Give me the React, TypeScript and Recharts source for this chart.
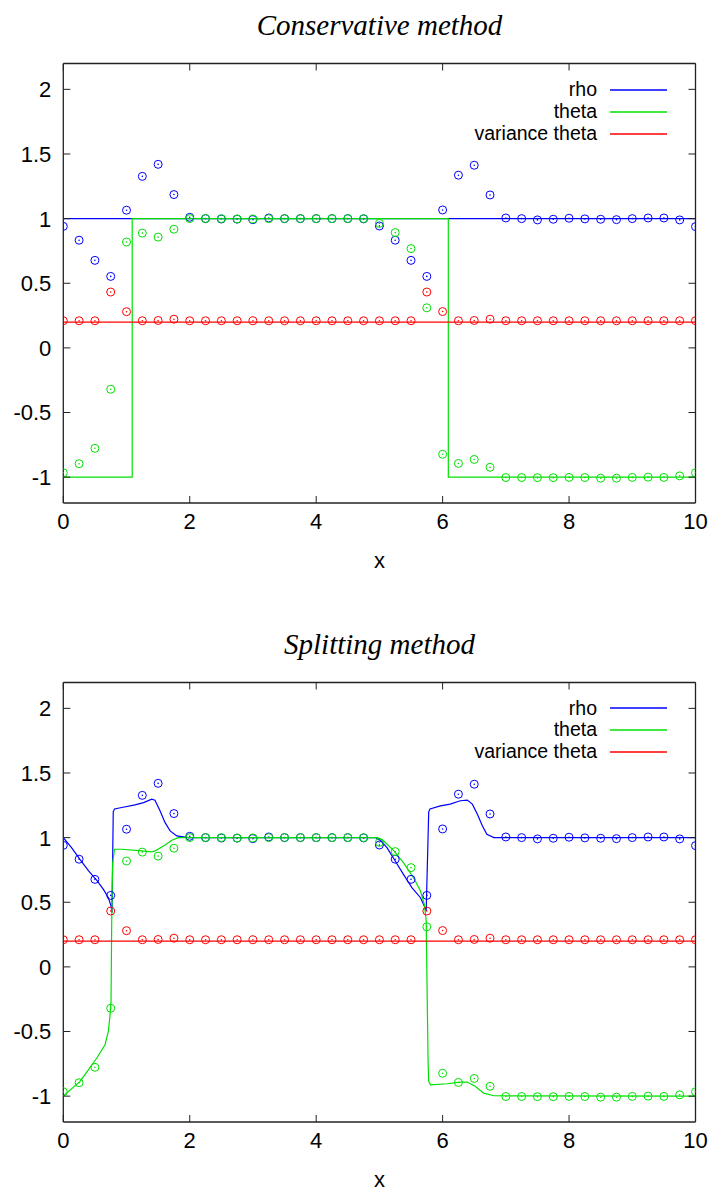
import { ComposedChart, Line, Scatter, XAxis, YAxis } from "recharts";

// sample points (circles), same in both panels
const pointX = [
  0, 0.25, 0.5, 0.75, 1, 1.25, 1.5, 1.75, 2, 2.25, 2.5, 2.75, 3, 3.25, 3.5, 3.75, 4, 4.25, 4.5, 4.75,
  5, 5.25, 5.5, 5.75, 6, 6.25, 6.5, 6.75, 7, 7.25, 7.5, 7.75, 8, 8.25, 8.5, 8.75, 9, 9.25, 9.5, 9.75, 10,
];
const rhoPoints = [
  0.94, 0.833, 0.677, 0.553, 1.065, 1.327, 1.42, 1.186, 1.01, 1.0, 0.997, 0.996, 0.992, 1.005, 1.0, 1.0, 1.0, 1.0, 1.0, 0.998,
  0.943, 0.833, 0.677, 0.553, 1.067, 1.336, 1.413, 1.183, 1.005, 1.0, 0.99, 0.995, 1.003, 0.998, 0.995, 0.992, 1.0, 1.005, 1.005, 0.99, 0.938,
];
const thetaPoints = [
  -0.966, -0.896, -0.777, -0.32, 0.819, 0.888, 0.857, 0.918, 1.0, 1.0, 1.0, 0.997, 0.997, 1.0, 1.0, 1.0, 1.0, 1.0, 1.0, 1.0,
  0.963, 0.892, 0.768, 0.31, -0.823, -0.894, -0.863, -0.924, -1.003, -1.003, -1.004, -1.004, -1.002, -1.003, -1.008, -1.008, -1.002, -1.0, -1.002, -0.99, -0.966,
];
const variancePoints = [
  0.21, 0.21, 0.21, 0.432, 0.28, 0.21, 0.212, 0.222, 0.21, 0.21, 0.21, 0.21, 0.21, 0.21, 0.21, 0.21, 0.21, 0.21, 0.21, 0.21,
  0.21, 0.21, 0.21, 0.432, 0.281, 0.21, 0.212, 0.222, 0.21, 0.21, 0.21, 0.21, 0.21, 0.21, 0.21, 0.21, 0.21, 0.21, 0.21, 0.21, 0.21,
];

// conservative method curves
const consRhoX = [0, 10];
const consRhoY = [1, 1];
const consThetaX = [0, 1.09, 1.09, 6.09, 6.09, 10];
const consThetaY = [-1, -1, 1, 1, -1, -1];
const consVarX = [0, 10];
const consVarY = [0.2, 0.2];

// splitting method curves
const splitRhoX = [
  0, 0.13, 0.26, 0.4, 0.53, 0.634, 0.713, 0.755, 0.77, 0.79, 0.81, 0.925, 1.135, 1.27, 1.4, 1.45, 1.53, 1.61, 1.69, 1.795, 1.98,
  4.94, 5.015, 5.12, 5.25, 5.38, 5.517, 5.65, 5.71, 5.74, 5.78, 5.8, 5.965, 6.12, 6.28, 6.39, 6.47, 6.55, 6.63, 6.7, 6.81, 10,
];
const splitRhoY = [
  1.0, 0.922, 0.833, 0.742, 0.67, 0.6, 0.535, 0.47, 0.42, 1.2, 1.222, 1.233, 1.253, 1.271, 1.297, 1.29, 1.207, 1.116, 1.052, 1.013, 1.0,
  1.0, 0.98, 0.922, 0.819, 0.716, 0.612, 0.535, 0.47, 0.432, 1.2, 1.222, 1.246, 1.259, 1.285, 1.29, 1.259, 1.18, 1.09, 1.026, 1.0, 1.0,
];
const splitThetaX = [
  0, 0.265, 0.4, 0.53, 0.66, 0.713, 0.74, 0.755, 0.766, 0.78, 0.81, 0.925, 1.24, 1.4, 1.45, 1.61, 1.716, 1.82,
  4.97, 5.07, 5.23, 5.38, 5.54, 5.65, 5.71, 5.73, 5.74, 5.77, 5.78, 5.81, 6.07, 6.28, 6.39, 6.52, 6.65, 6.81, 10,
];
const splitThetaY = [
  -1.0, -0.886, -0.795, -0.705, -0.602, -0.498, -0.369, -0.266, 0.355, 0.8, 0.91, 0.91, 0.897, 0.889, 0.897, 0.943, 0.98, 1.0,
  1.0, 0.974, 0.897, 0.806, 0.69, 0.587, 0.484, 0.406, 0.355, -0.73, -0.886, -0.912, -0.904, -0.891, -0.891, -0.925, -0.977, -0.997, -1.0,
];
const splitVarX = [0, 10];
const splitVarY = [0.2, 0.2];

const xTicks = [0, 2, 4, 6, 8, 10];
const yTicks = [-1, -0.5, 0, 0.5, 1, 1.5, 2];

const seriesNames = ["rho", "theta", "variance theta"];
const seriesColors = ["#0000ff", "#00e000", "#ff0000"];

const zip = (xs: number[], ys: number[]) => xs.map((x, i) => ({ x, y: ys[i] }));

const FRAME = "#222";
const SANS = "'Liberation Sans', Arial, sans-serif";
const FONT_SIZE = 22;
const KEY_FONT = 19.5;
const KEY_ROW = 21.8;
const TICK_LEN = 7;
const X_GAP = 18;
const Y_GAP = 12;

function BottomTick(props: any) {
  const { x, y, payload } = props;
  const axisY = y - X_GAP;
  return (
    <g>
      <line x1={x} y1={axisY} x2={x} y2={axisY - TICK_LEN} stroke={FRAME} />
      <text x={x} y={y} dy="0.36em" textAnchor="middle" fontFamily={SANS} fontSize={FONT_SIZE} fill="#000">
        {payload.value}
      </text>
    </g>
  );
}

function TopTick(props: any) {
  const { x, y } = props;
  const axisY = y + X_GAP;
  return <line x1={x} y1={axisY} x2={x} y2={axisY + TICK_LEN} stroke={FRAME} />;
}

function LeftTick(props: any) {
  const { x, y, payload } = props;
  const axisX = x + Y_GAP;
  return (
    <g>
      <line x1={axisX} y1={y} x2={axisX + TICK_LEN} y2={y} stroke={FRAME} />
      <text x={x} y={y} dy="0.36em" textAnchor="end" fontFamily={SANS} fontSize={FONT_SIZE} fill="#000">
        {payload.value}
      </text>
    </g>
  );
}

function RightTick(props: any) {
  const { x, y } = props;
  const axisX = x - Y_GAP;
  return <line x1={axisX} y1={y} x2={axisX - TICK_LEN} y2={y} stroke={FRAME} />;
}

const ringShape = (color: string) => (p: any) => (
  <g>
    <circle cx={p.cx} cy={p.cy} r={4} fill="none" stroke={color} strokeWidth={1} />
    <circle cx={p.cx} cy={p.cy} r={0.8} fill={color} />
  </g>
);

function Panel({
  title,
  top,
  curves,
}: {
  title: string;
  top: number;
  curves: { x: number; y: number }[][];
}) {
  const points = [rhoPoints, thetaPoints, variancePoints].map((ys) => zip(pointX, ys));
  return (
    <div style={{ position: "absolute", left: 0, top, width: 710, height: 600 }}>
      <div
        style={{
          position: "absolute",
          left: 63,
          width: 633,
          top: 8,
          textAlign: "center",
          fontFamily: "'Liberation Serif', 'DejaVu Serif', serif",
          fontStyle: "italic",
          fontSize: 29,
          lineHeight: "34px",
        }}
      >
        {title}
      </div>
      <ComposedChart
        width={710}
        height={600}
        margin={{ top: 58.5, right: 9.5, left: 8.3, bottom: 0 }}
      >
        <XAxis
          type="number"
          dataKey="x"
          domain={[0, 10]}
          ticks={xTicks}
          allowDataOverflow
          height={97}
          tickSize={0}
          tickMargin={X_GAP}
          tickLine={false}
          tick={BottomTick}
          axisLine={{ stroke: FRAME, strokeWidth: 1.3 }}
          label={{ value: "x", position: "insideTop", offset: 49, fontFamily: SANS, fontSize: FONT_SIZE, fill: "#000" }}
        />
        <XAxis
          xAxisId="top"
          orientation="top"
          type="number"
          dataKey="x"
          domain={[0, 10]}
          ticks={xTicks}
          allowDataOverflow
          height={5}
          tickSize={0}
          tickMargin={X_GAP}
          tickLine={false}
          tick={TopTick}
          axisLine={{ stroke: FRAME, strokeWidth: 1.3 }}
        />
        <YAxis
          type="number"
          dataKey="y"
          domain={[-1.2, 2.2]}
          ticks={yTicks}
          allowDataOverflow
          width={55}
          tickSize={0}
          tickMargin={Y_GAP}
          tickLine={false}
          tick={LeftTick}
          axisLine={{ stroke: FRAME, strokeWidth: 1.3 }}
        />
        <YAxis
          yAxisId="right"
          orientation="right"
          type="number"
          dataKey="y"
          domain={[-1.2, 2.2]}
          ticks={yTicks}
          allowDataOverflow
          width={5}
          tickSize={0}
          tickMargin={Y_GAP}
          tickLine={false}
          tick={RightTick}
          axisLine={{ stroke: FRAME, strokeWidth: 1.3 }}
        />
        {points.map((data, i) => (
          <Scatter
            key={"p" + i}
            data={data}
            dataKey="y"
            shape={ringShape(seriesColors[i])}
            isAnimationActive={false}
          />
        ))}
        {curves.map((data, i) => (
          <Line
            key={"l" + i}
            data={data}
            dataKey="y"
            type="linear"
            stroke={seriesColors[i]}
            strokeWidth={1.2}
            dot={false}
            activeDot={false}
            isAnimationActive={false}
          />
        ))}
      </ComposedChart>
      <div
        style={{
          position: "absolute",
          top: 90 - KEY_ROW / 2,
          right: 43,
          fontFamily: SANS,
          fontSize: KEY_FONT,
          lineHeight: `${KEY_ROW}px`,
        }}
      >
        {seriesNames.map((name, i) => (
          <div
            key={name}
            style={{ display: "flex", justifyContent: "flex-end", alignItems: "center", height: KEY_ROW }}
          >
            <span>{name}</span>
            <svg width={57} height={4} style={{ marginLeft: 13, display: "block" }}>
              <line x1={0} y1={2} x2={57} y2={2} stroke={seriesColors[i]} strokeWidth={1.3} />
            </svg>
          </div>
        ))}
      </div>
    </div>
  );
}

export default function App() {
  return (
    <div
      style={{
        position: "absolute",
        left: 0,
        top: 0,
        width: 710,
        height: 1191,
        overflow: "hidden",
        background: "#fff",
      }}
    >
      <Panel
        title="Conservative method"
        top={0}
        curves={[zip(consRhoX, consRhoY), zip(consThetaX, consThetaY), zip(consVarX, consVarY)]}
      />
      <Panel
        title="Splitting method"
        top={618.5}
        curves={[zip(splitRhoX, splitRhoY), zip(splitThetaX, splitThetaY), zip(splitVarX, splitVarY)]}
      />
    </div>
  );
}
